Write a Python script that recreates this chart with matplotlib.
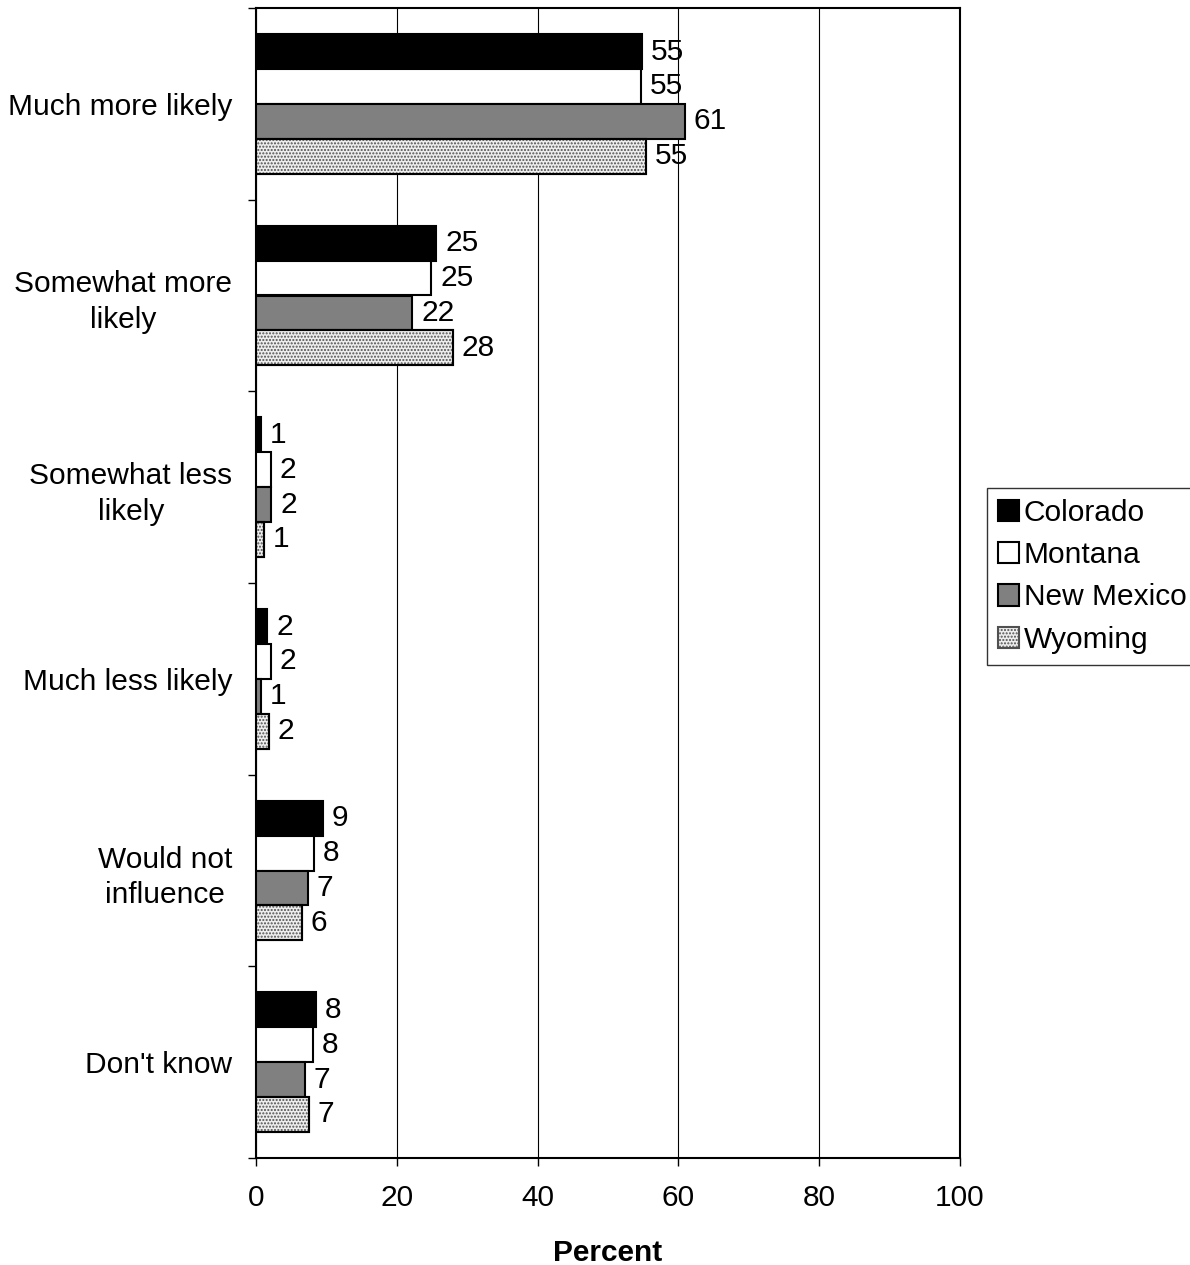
import matplotlib
matplotlib.use("Agg")
import matplotlib.pyplot as plt
import numpy as np

plt.rcParams['font.family'] = ['Liberation Sans', 'DejaVu Sans']
plt.rcParams['hatch.linewidth'] = 1.0

categories = ["Much more likely", "Somewhat more\nlikely", "Somewhat less\nlikely",
              "Much less likely", "Would not\ninfluence", "Don't know"]
series = ["Colorado", "Montana", "New Mexico", "Wyoming"]
colorado = [54.8, 25.6, 0.7, 1.6, 9.5, 8.5]
montana = [54.7, 24.9, 2.1, 2.1, 8.2, 8.1]
new_mexico = [60.9, 22.2, 2.2, 0.7, 7.4, 6.9]
wyoming = [55.4, 28.0, 1.2, 1.8, 6.5, 7.5]
colorado_lbl = [55, 25, 1, 2, 9, 8]
montana_lbl = [55, 25, 2, 2, 8, 8]
new_mexico_lbl = [61, 22, 2, 1, 7, 7]
wyoming_lbl = [55, 28, 1, 2, 6, 7]
xticks = [0, 20, 40, 60, 80, 100]

values = [colorado, montana, new_mexico, wyoming]
labels = [colorado_lbl, montana_lbl, new_mexico_lbl, wyoming_lbl]
faces = ['black', 'white', '#808080', '#eeeeee']
hatches = [None, None, None, '.....']

FS = 21.5

fig = plt.figure(figsize=(11.9, 12.65), dpi=100)
ax = fig.add_axes([256/1190, 1 - 1158/1265, (960-256)/1190, (1158-8)/1265])

n = len(categories)
bh = 0.182
for i, (vals, lbls, fc, h) in enumerate(zip(values, labels, faces, hatches)):
    ys = np.arange(n) + 0.5 - 1.5*bh + i*bh
    bars = ax.barh(ys, vals, height=bh, color=fc, edgecolor='black', linewidth=1.5,
                   hatch=h, label=series[i], zorder=3)
    if h:
        for b in bars:
            b.set_edgecolor('#505050')
        ax.barh(ys, vals, height=bh, facecolor='none', edgecolor='black',
                linewidth=1.5, zorder=4)
    for y, v, l in zip(ys, vals, lbls):
        ax.text(v + 1.25, y, str(l), va='center', ha='left', fontsize=FS, zorder=5)

ax.set_xlim(0, 100)
ax.set_ylim(n, 0)
ax.set_xticks(xticks)
ax.set_xticklabels([str(t) for t in xticks], fontsize=FS)
ax.tick_params(axis='x', direction='out', length=6, width=1, pad=13)
ax.set_yticks(np.arange(n + 1))
ax.set_yticklabels([])
ax.tick_params(axis='y', which='major', direction='out', length=6, width=1)
ax.set_yticks(np.arange(n) + 0.5, minor=True)
ax.set_yticklabels(categories, minor=True, fontsize=FS, multialignment='center',
                   linespacing=1.35)
ax.tick_params(axis='y', which='minor', length=0, pad=17)
ax.xaxis.grid(True, color='black', linewidth=0.8, zorder=0)
ax.set_axisbelow(True)
for s in ax.spines.values():
    s.set_linewidth(1.5)
ax.set_xlabel('Percent', fontsize=FS, fontweight='bold', labelpad=19)

handles, lbls = ax.get_legend_handles_labels()
leg = fig.legend(handles[:4], lbls[:4], loc='upper left',
                 bbox_to_anchor=(987/1190, 1 - 488/1265), fontsize=FS,
                 frameon=True, fancybox=False, edgecolor='black',
                 handlelength=0.72, handleheight=0.72, handletextpad=0.15,
                 borderpad=0.36, labelspacing=0.48, borderaxespad=0)
leg.get_frame().set_linewidth(1.0)

fig.savefig('out.png', dpi=100)
